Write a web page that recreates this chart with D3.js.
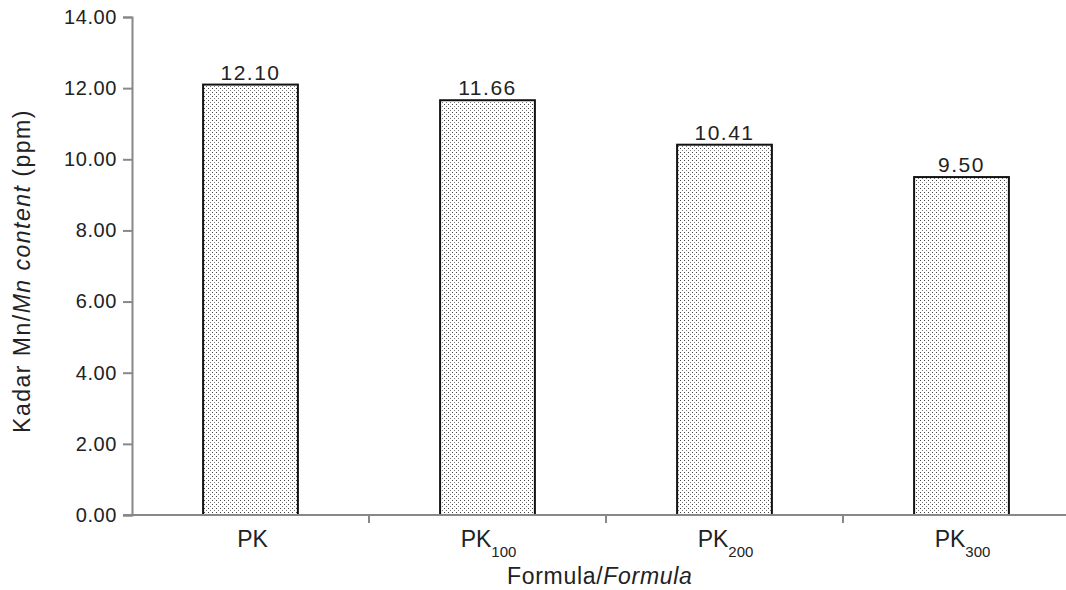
<!DOCTYPE html>
<html><head><meta charset="utf-8">
<script src="https://cdn.jsdelivr.net/npm/d3@7"></script>
<style>body{margin:0;background:#fff}svg{display:block;font-family:"Liberation Sans",Arial,sans-serif}</style>
</head><body><svg id="c" width="1066" height="590"></svg>
<script>
const categories = ["PK", "PK100", "PK200", "PK300"];
const subscripts = ["", "100", "200", "300"];
const values = [12.10, 11.66, 10.41, 9.50];
const yTicks = [0, 2, 4, 6, 8, 10, 12, 14];

const svg = d3.select("#c");
const x0 = 132, yBase = 515, yTop = 17;
const x = d3.scaleBand().domain(categories).range([x0, x0 + 4 * 237]).paddingInner(0.6).paddingOuter(0.3);
const xBand = d3.scaleBand().domain(categories).range([x0, x0 + 4 * 237]);
const y = d3.scaleLinear().domain([0, 14]).range([yBase, yTop]);

const defs = svg.append("defs");
const pat = defs.append("pattern").attr("id", "dots").attr("patternUnits", "userSpaceOnUse")
  .attr("width", 4).attr("height", 4);
pat.append("rect").attr("width", 4).attr("height", 4).attr("fill", "#fff");
pat.append("rect").attr("x", 0).attr("y", 0).attr("width", 1).attr("height", 1).attr("fill", "#444");
pat.append("rect").attr("x", 2).attr("y", 2).attr("width", 1).attr("height", 1).attr("fill", "#777");

// bars
svg.selectAll("rect.bar").data(values).join("rect").attr("class", "bar")
  .attr("x", (d, i) => x(categories[i]))
  .attr("y", d => y(d))
  .attr("width", x.bandwidth())
  .attr("height", d => yBase - y(d))
  .attr("fill", "url(#dots)").attr("stroke", "#111").attr("stroke-width", 2);

// value labels
svg.selectAll("text.val").data(values).join("text").attr("class", "val")
  .attr("x", (d, i) => x(categories[i]) + x.bandwidth() / 2)
  .attr("y", d => y(d) - 5)
  .attr("text-anchor", "middle").attr("font-size", 21).attr("letter-spacing", 1.5).attr("fill", "#222")
  .text(d => d.toFixed(2));

// y axis
const yAxis = d3.axisLeft(y).tickValues(yTicks).tickFormat(d3.format(".2f")).tickSize(9).tickPadding(6);
const gy = svg.append("g").attr("transform", `translate(${x0},0)`).call(yAxis);
gy.select(".domain").attr("stroke", "#888").attr("stroke-width", 2);
gy.selectAll(".tick line").attr("stroke", "#888").attr("stroke-width", 2);
gy.selectAll(".tick text").attr("font-size", 20).attr("letter-spacing", 0.6).attr("fill", "#222")
  .attr("font-family", "Liberation Sans, Arial, sans-serif");

// x axis line
svg.append("line").attr("x1", x0 - 9).attr("x2", 1066).attr("y1", yBase).attr("y2", yBase)
  .attr("stroke", "#888").attr("stroke-width", 2);
// x ticks between categories
const bounds = categories.slice(1).map(c => xBand(c));
svg.selectAll("line.xt").data(bounds).join("line").attr("class", "xt")
  .attr("x1", d => d).attr("x2", d => d).attr("y1", yBase).attr("y2", yBase + 8)
  .attr("stroke", "#888").attr("stroke-width", 2);

// x labels
categories.forEach((c, i) => {
  const cx = xBand(c) + xBand.bandwidth() / 2;
  const t = svg.append("text").attr("x", cx + (subscripts[i] ? 1 : 2)).attr("y", 547)
    .attr("text-anchor", "middle").attr("font-size", 23).attr("fill", "#222");
  t.append("tspan").text("PK");
  if (subscripts[i]) {
    t.append("tspan").attr("font-size", 15).attr("dy", 10).text(subscripts[i]);
  }
});

// axis titles
const xt = svg.append("text").attr("x", 507).attr("y", 584).attr("text-anchor", "start")
  .attr("font-size", 23).attr("letter-spacing", 0.7).attr("fill", "#222");
xt.append("tspan").text("Formula/");
xt.append("tspan").attr("font-style", "italic").text("Formula");

const yt = svg.append("text").attr("transform", "translate(30,271) rotate(-90)").attr("text-anchor", "middle")
  .attr("font-size", 23).attr("letter-spacing", 1.5).attr("fill", "#222");
yt.append("tspan").text("Kadar Mn/");
yt.append("tspan").attr("font-style", "italic").text("Mn content");
yt.append("tspan").text(" (ppm)");
</script></body></html>
